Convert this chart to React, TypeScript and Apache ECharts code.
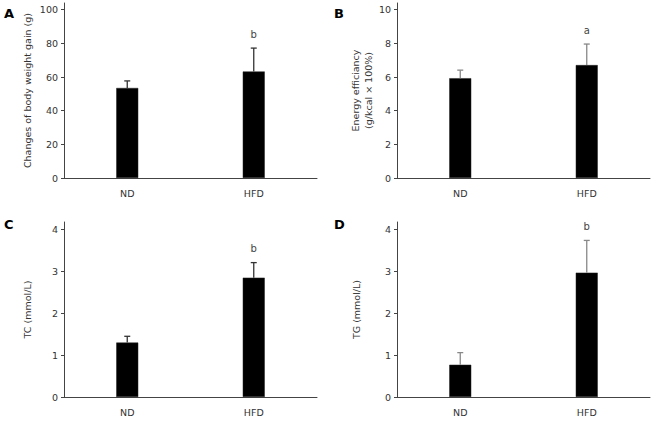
import React, { useEffect, useRef } from "react";
import * as echarts from "echarts";

const categories = ["ND", "HFD"];

const weightGain = [53.5, 63.3];
const weightGainSD = [4.2, 13.9];
const energyEff = [5.93, 6.71];
const energyEffSD = [0.48, 1.25];
const tcValues = [1.3, 2.85];
const tcSD = [0.15, 0.36];
const tgValues = [0.77, 2.97];
const tgSD = [0.29, 0.77];

const sigA = ["", "b"];
const sigB = ["", "a"];
const sigC = ["", "b"];
const sigD = ["", "b"];

const ticksA = [0, 20, 40, 60, 80, 100];
const ticksB = [0, 2, 4, 6, 8, 10];
const ticksC = [0, 1, 2, 3, 4];
const ticksD = [0, 1, 2, 3, 4];

const panelLetters = ["A", "B", "C", "D"];

const FONT = "DejaVu Sans";
const TEXT = "#333";
const AXIS = "#444";

export default function App() {
  const ref = useRef<HTMLDivElement>(null);
  useEffect(() => {
    if (!ref.current) return;
    const chart = echarts.init(ref.current, null, { renderer: "svg" });

    const panels = [
      { vals: weightGain, sd: weightGainSD, sig: sigA, ticks: ticksA, max: 104, name: "Changes of body weight gain (g)", gap: 30, err: "#333", grid: { left: 64, right: 339, top: 3, bottom: 243 } },
      { vals: energyEff, sd: energyEffSD, sig: sigB, ticks: ticksB, max: 10.4, name: "Energy efficiancy\n(g/kcal × 100%)", gap: 21, err: "#888", grid: { left: 397, right: 6, top: 3, bottom: 243 } },
      { vals: tcValues, sd: tcSD, sig: sigC, ticks: ticksC, max: 4.18, name: "TC (mmol/L)", gap: 30, err: "#333", grid: { left: 64, right: 339, top: 222, bottom: 24 } },
      { vals: tgValues, sd: tgSD, sig: sigD, ticks: ticksD, max: 4.18, name: "TG (mmol/L)", gap: 34, err: "#888", grid: { left: 397, right: 6, top: 222, bottom: 24 } },
    ];

    const option: any = {
      animation: false,
      grid: panels.map((p) => ({ ...p.grid, containLabel: false })),
      xAxis: panels.map((p, i) => ({
        type: "category",
        gridIndex: i,
        data: categories,
        boundaryGap: true,
        axisLine: { lineStyle: { color: AXIS, width: 1 } },
        axisTick: { show: false },
        axisLabel: { color: TEXT, fontFamily: FONT, fontSize: 9.5, margin: 10 },
      })),
      yAxis: panels.map((p, i) => ({
        type: "value",
        gridIndex: i,
        min: 0,
        max: p.max,
        name: p.name,
        nameLocation: "middle",
        nameGap: p.gap,
        nameTextStyle: { color: TEXT, fontFamily: FONT, fontSize: 9.5, lineHeight: 13 },
        splitLine: { show: false },
        axisLine: { show: true, lineStyle: { color: AXIS, width: 1 } },
        axisTick: { show: true, length: 3, customValues: p.ticks, lineStyle: { color: AXIS } },
        axisLabel: { color: TEXT, fontFamily: FONT, fontSize: 9.5, margin: 6, customValues: p.ticks },
      })),
      series: [
        ...panels.map((p, i) => ({
          type: "bar",
          xAxisIndex: i,
          yAxisIndex: i,
          barWidth: 22,
          data: p.vals,
          itemStyle: { color: "#000", borderColor: "#222", borderWidth: 0.5 },
          z: 2,
        })),
        ...panels.map((p, i) => ({
          type: "custom",
          xAxisIndex: i,
          yAxisIndex: i,
          z: 3,
          data: p.vals.map((v, k) => [k, v, p.sd[k]]),
          renderItem: (params: any, api: any) => {
            const idx = api.value(0);
            const mean = api.value(1);
            const sd = api.value(2);
            const base = api.coord([idx, mean]);
            const top = api.coord([idx, mean + sd]);
            const label = p.sig[params.dataIndex];
            const children: any[] = [
              { type: "line", shape: { x1: base[0], y1: base[1], x2: top[0], y2: top[1] }, style: { stroke: p.err, lineWidth: 1.3 } },
              { type: "line", shape: { x1: top[0] - 3, y1: top[1], x2: top[0] + 3, y2: top[1] }, style: { stroke: p.err, lineWidth: 1.3 } },
            ];
            if (label) {
              children.push({
                type: "text",
                style: { text: label, x: top[0], y: top[1] - 14, align: "center", verticalAlign: "middle", fill: "#444", font: `10px ${FONT}` },
              });
            }
            return { type: "group", children };
          },
        })),
      ],
      graphic: [
        { pos: [4, 13] },
        { pos: [334, 13] },
        { pos: [4, 224] },
        { pos: [334, 224] },
      ].map((g, i) => ({
        type: "text",
        x: g.pos[0],
        y: g.pos[1],
        style: { text: panelLetters[i], fill: "#000", font: `bold 13px ${FONT}`, verticalAlign: "middle", align: "left" },
      })),
    };

    chart.setOption(option);
    return () => chart.dispose();
  }, []);

  return <div ref={ref} style={{ position: "fixed", left: 0, top: 0, width: 656, height: 421, background: "#fff" }} />;
}
